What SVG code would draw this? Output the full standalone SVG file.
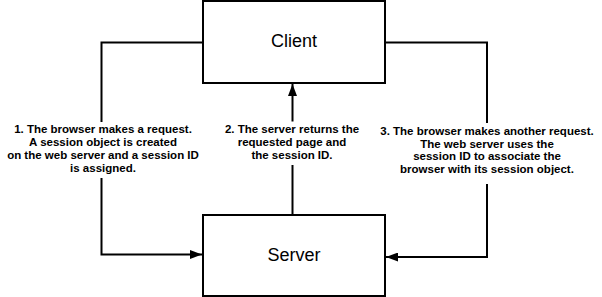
<svg xmlns="http://www.w3.org/2000/svg" width="602" height="297" viewBox="0 0 602 297">
<style>
.box{fill:#fff;stroke:#000;stroke-width:2}
.title{font-family:"Liberation Sans",Arial,sans-serif;font-size:18px;fill:#000;text-anchor:middle}
.lbl{font-family:"Liberation Sans",Arial,sans-serif;font-size:11.5px;font-weight:bold;fill:#000;text-anchor:middle}
.ln{fill:none;stroke:#000;stroke-width:2}
</style>
<defs>
<marker id="ah" markerUnits="userSpaceOnUse" markerWidth="12" markerHeight="9" refX="12" refY="4.5" orient="auto">
<path d="M0,0 L12,4.5 L0,9 Z" fill="#000"/>
</marker>
</defs>
<rect width="602" height="297" fill="#fff"/>
<g id="connectors">
<polyline class="ln" points="203,42.5 101.5,42.5 101.5,122"/>
<polyline class="ln" points="101.5,178 101.5,254.5 202,254.5" marker-end="url(#ah)"/>
<polyline class="ln" points="292.5,121.5 292.5,84" marker-end="url(#ah)"/>
<polyline class="ln" points="292.5,215 292.5,165"/>
<polyline class="ln" points="385,42.5 487,42.5 487,123"/>
<polyline class="ln" points="487,184 487,257 386,257" marker-end="url(#ah)"/>
<g id="label1">
<text class="lbl" x="103" y="133">1. The browser makes a request.</text>
<text class="lbl" x="103" y="146">A session object is created</text>
<text class="lbl" x="103" y="159">on the web server and a session ID</text>
<text class="lbl" x="103" y="172">is assigned.</text>
</g>
<g id="label2">
<text class="lbl" x="292" y="132.5">2. The server returns the</text>
<text class="lbl" x="292" y="145.5">requested page and</text>
<text class="lbl" x="292" y="158.5">the session ID.</text>
</g>
<g id="label3">
<text class="lbl" x="487" y="134.5">3. The browser makes another request.</text>
<text class="lbl" x="487" y="147.5">The web server uses the</text>
<text class="lbl" x="487" y="160">session ID to associate the</text>
<text class="lbl" x="487" y="172.5">browser with its session object.</text>
</g>
</g>
<g id="client">
<rect class="box" x="203" y="1" width="182" height="82"/>
<text class="title" x="294" y="47">Client</text>
</g>
<g id="server">
<rect class="box" x="203" y="215" width="182" height="81"/>
<text class="title" x="294" y="261">Server</text>
</g>
</svg>
